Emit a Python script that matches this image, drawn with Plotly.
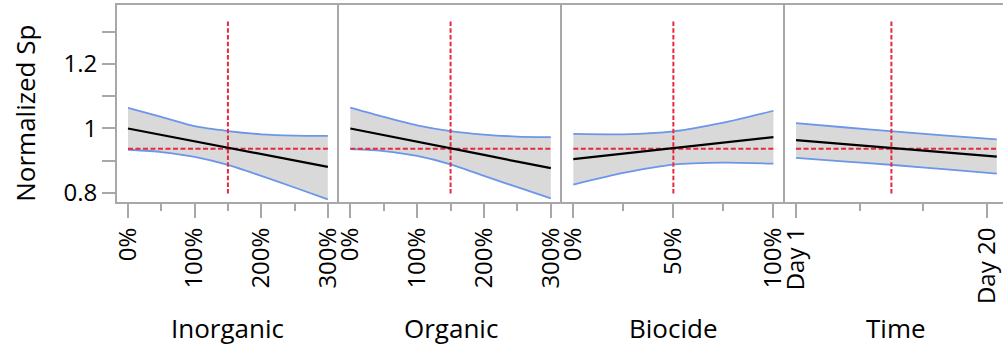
import plotly.graph_objects as go

# Prediction profiler: predicted Normalized Sp with confidence band for each factor
inorganic_x = [0, 50, 100, 150, 200, 250, 300]
inorganic_pred = [1.000, 0.980, 0.960, 0.940, 0.920, 0.900, 0.881]
inorganic_upper = [1.064, 1.036, 1.007, 0.992, 0.982, 0.978, 0.977]
inorganic_lower = [0.934, 0.927, 0.912, 0.887, 0.853, 0.817, 0.780]

organic_x = [0, 50, 100, 150, 200, 250, 300]
organic_pred = [1.000, 0.980, 0.959, 0.938, 0.918, 0.897, 0.877]
organic_upper = [1.065, 1.036, 1.010, 0.992, 0.981, 0.975, 0.973]
organic_lower = [0.936, 0.930, 0.915, 0.889, 0.853, 0.818, 0.783]

biocide_x = [0, 25, 50, 75, 100]
biocide_pred = [0.905, 0.922, 0.939, 0.956, 0.973]
biocide_upper = [0.983, 0.982, 0.991, 1.018, 1.055]
biocide_lower = [0.826, 0.862, 0.888, 0.894, 0.891]

time_x = [1, 6, 11, 16, 21]
time_pred = [0.964, 0.951, 0.938, 0.926, 0.913]
time_upper = [1.0165, 1.003, 0.990, 0.978, 0.966]
time_lower = [0.909, 0.897, 0.886, 0.873, 0.860]

# current factor settings and the predicted response there
current_settings = [150, 150, 50, 10.5]
predicted_at_current = 0.937

factor_names = ["Inorganic", "Organic", "Biocide", "Time"]

pct_ticks_major = [0, 100, 200, 300]
pct_ticks_minor = [50, 150, 250]
biocide_ticks_major = [0, 50, 100]
biocide_ticks_minor = [25, 75]
time_ticks_major = [1, 20]
time_ticks_labels = ["Day 1", "Day 20"]
time_ticks_minor = [1 + 19 / 3, 1 + 38 / 3]

y_ticks = [0.8, 0.9, 1.0, 1.1, 1.2, 1.3]
y_tick_labels = ["0.8", "", "1", "", "1.2", ""]

# styling
FONT = "Open Sans"
FRAME = "#a8a8a8"
BAND_FILL = "#d9d9d9"
BAND_LINE = "#6b96ea"
RED = "#e8283f"
Y_RANGE = [0.772, 1.383]
VLINE_SPAN = [0.798, 1.338]

panels = [
    (inorganic_x, inorganic_pred, inorganic_upper, inorganic_lower),
    (organic_x, organic_pred, organic_upper, organic_lower),
    (biocide_x, biocide_pred, biocide_upper, biocide_lower),
    (time_x, time_pred, time_upper, time_lower),
]
x_ranges = [[-16.5, 317.2], [-16.5, 317.2], [-5.5, 105.8], [-0.096, 21.62]]
domains = [[0.0, 0.2509], [0.2509, 0.5026], [0.5026, 0.7540], [0.7540, 1.0]]
title_x = [150, 150, 50, 11]

fig = go.Figure()

for i, (xs, pred, up, lo) in enumerate(panels):
    n = i + 1
    xa = "x" if n == 1 else f"x{n}"
    ya = "y" if n == 1 else f"y{n}"
    # confidence band fill
    fig.add_trace(go.Scatter(
        x=list(xs) + list(xs)[::-1], y=list(up) + list(lo)[::-1],
        fill="toself", fillcolor=BAND_FILL, line=dict(width=0),
        mode="lines", hoverinfo="skip", showlegend=False, xaxis=xa, yaxis=ya))
    for edge in (up, lo):
        fig.add_trace(go.Scatter(
            x=xs, y=edge, mode="lines", line=dict(color=BAND_LINE, width=1.8, shape="spline", smoothing=0.6),
            showlegend=False, xaxis=xa, yaxis=ya))
    # reference lines at current setting
    fig.add_trace(go.Scatter(
        x=[xs[0], xs[-1]], y=[predicted_at_current, predicted_at_current], mode="lines",
        line=dict(color=RED, width=2, dash="5px,2.5px"), showlegend=False, xaxis=xa, yaxis=ya))
    fig.add_trace(go.Scatter(
        x=[current_settings[i], current_settings[i]], y=VLINE_SPAN, mode="lines",
        line=dict(color=RED, width=2, dash="4.5px,2.2px"), showlegend=False, xaxis=xa, yaxis=ya))
    # predicted response
    fig.add_trace(go.Scatter(
        x=xs, y=pred, mode="lines", line=dict(color="black", width=2.2),
        showlegend=False, xaxis=xa, yaxis=ya))

tick_font = dict(family=FONT, size=24, color="black")

def x_axis(i):
    ax = dict(
        domain=domains[i], range=x_ranges[i], anchor="y" if i == 0 else f"y{i+1}",
        showline=True, mirror=True, linecolor=FRAME, linewidth=2,
        showgrid=False, zeroline=False, ticks="outside", ticklen=14, tickwidth=2,
        tickcolor=FRAME, tickangle=-90, tickfont=tick_font, automargin=False,
        tickmode="array",
    )
    if i < 2:
        ax.update(tickvals=pct_ticks_major, ticktext=[f"{v}%" for v in pct_ticks_major],
                  minor=dict(tickvals=pct_ticks_minor, ticklen=7, tickwidth=2, tickcolor=FRAME, ticks="outside"))
    elif i == 2:
        ax.update(tickvals=biocide_ticks_major, ticktext=[f"{v}%" for v in biocide_ticks_major],
                  minor=dict(tickvals=biocide_ticks_minor, ticklen=7, tickwidth=2, tickcolor=FRAME, ticks="outside"))
    else:
        ax.update(tickvals=time_ticks_major, ticktext=time_ticks_labels,
                  minor=dict(tickvals=time_ticks_minor, ticklen=7, tickwidth=2, tickcolor=FRAME, ticks="outside"))
    return ax

def y_axis(i):
    ax = dict(
        domain=[0, 1], range=Y_RANGE, anchor="x" if i == 0 else f"x{i+1}",
        showline=True, mirror=False, linecolor=FRAME, linewidth=2,
        showgrid=False, zeroline=False, automargin=False,
    )
    if i == 0:
        ax.update(ticks="outside", ticklen=13, tickwidth=2, tickcolor=FRAME,
                  tickmode="array", tickvals=y_ticks, ticktext=y_tick_labels,
                  tickfont=tick_font)
    else:
        ax.update(showticklabels=False, ticks="", matches="y")
    return ax

layout = dict(
    width=1003, height=348,
    margin=dict(l=117, r=0, t=5, b=146),
    paper_bgcolor="white", plot_bgcolor="white",
    font=dict(family=FONT, color="black"),
    showlegend=False,
)
for i in range(4):
    layout["xaxis" if i == 0 else f"xaxis{i+1}"] = x_axis(i)
    layout["yaxis" if i == 0 else f"yaxis{i+1}"] = y_axis(i)

annotations = []
for i, name in enumerate(factor_names):
    annotations.append(dict(
        text=name, xref="x" if i == 0 else f"x{i+1}", x=title_x[i],
        yref="paper", y=-0.642, xanchor="center", yanchor="middle",
        showarrow=False, font=dict(family=FONT, size=26, color="black")))
annotations.append(dict(
    text="Normalized Sp", xref="paper", x=-0.1038, yref="paper", y=0.448,
    xanchor="center", yanchor="middle", textangle=-90, showarrow=False,
    font=dict(family=FONT, size=26, color="black")))
layout["annotations"] = annotations

fig.update_layout(**layout)
fig.write_html("out.html")
